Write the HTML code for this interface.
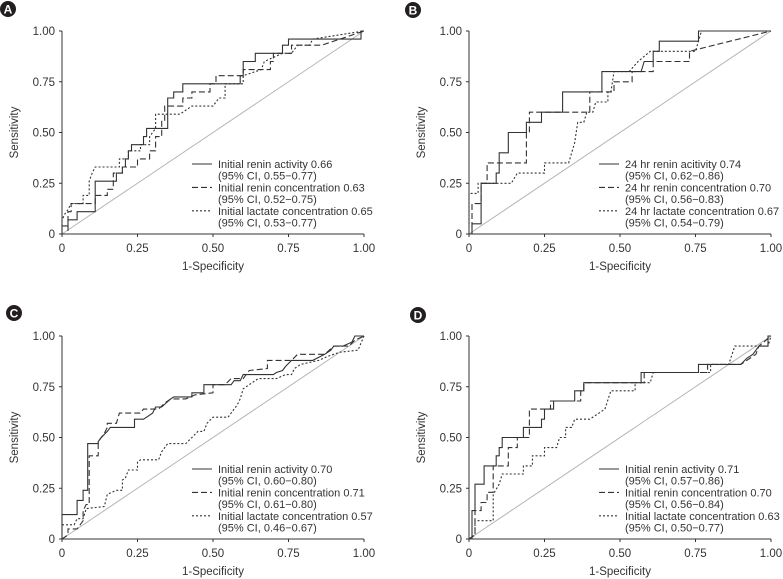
<!DOCTYPE html>
<html><head><meta charset="utf-8"><style>
html,body{margin:0;padding:0;background:#fff;}
svg{display:block;font-family:"Liberation Sans",Arial,sans-serif;}
</style></head><body>
<svg id="chart" width="783" height="579" viewBox="0 0 783 579" xmlns="http://www.w3.org/2000/svg"></svg>
<script>
const ticks = [0, 0.25, 0.5, 0.75, 1];
const tickLabels = ["0", "0.25", "0.50", "0.75", "1.00"];
const panelLetters = ["A", "B", "C", "D"];
const legendA = ["Initial renin activity 0.66", "(95% CI, 0.55\u22120.77)", "Initial renin concentration 0.63", "(95% CI, 0.52\u22120.75)", "Initial lactate concentration 0.65", "(95% CI, 0.53\u22120.77)"];
const legendB = ["24 hr renin acitivity 0.74", "(95% CI, 0.62\u22120.86)", "24 hr renin concentration 0.70", "(95% CI, 0.56\u22120.83)", "24 hr lactate concentration 0.67", "(95% CI, 0.54\u22120.79)"];
const legendC = ["Initial renin activity 0.70", "(95% CI, 0.60\u22120.80)", "Initial renin concentration 0.71", "(95% CI, 0.61\u22120.80)", "Initial lactate concentration 0.57", "(95% CI, 0.46\u22120.67)"];
const legendD = ["Initial renin activity 0.71", "(95% CI, 0.57\u22120.86)", "Initial renin concentration 0.70", "(95% CI, 0.56\u22120.84)", "Initial lactate concentration 0.63", "(95% CI, 0.50\u22120.77)"];

const solidA = [[0,0],[0,0.04],[0.02,0.04],[0.02,0.07],[0.05,0.07],[0.05,0.11],[0.11,0.11],[0.11,0.26],[0.18,0.26],[0.18,0.30],[0.2,0.30],[0.2,0.33],[0.21,0.33],[0.21,0.37],[0.22,0.37],[0.22,0.41],[0.23,0.41],[0.23,0.44],[0.27,0.44],[0.27,0.48],[0.28,0.48],[0.28,0.52],[0.35,0.52],[0.35,0.67],[0.37,0.67],[0.37,0.70],[0.40,0.70],[0.40,0.74],[0.59,0.74],[0.59,0.78],[0.6,0.78],[0.6,0.85],[0.64,0.85],[0.64,0.89],[0.73,0.89],[0.73,0.93],[0.75,0.93],[0.75,0.96],[0.99,0.96],[0.99,1],[1,1]];
const dashedA = [[0,0],[0.02,0],[0.02,0.11],[0.03,0.11],[0.03,0.15],[0.11,0.15],[0.11,0.19],[0.15,0.19],[0.15,0.22],[0.17,0.22],[0.17,0.30],[0.2,0.30],[0.2,0.33],[0.25,0.33],[0.25,0.37],[0.29,0.37],[0.29,0.41],[0.31,0.41],[0.31,0.48],[0.33,0.48],[0.33,0.56],[0.34,0.56],[0.34,0.63],[0.4,0.63],[0.4,0.67],[0.43,0.67],[0.43,0.70],[0.49,0.70],[0.49,0.74],[0.51,0.74],[0.51,0.78],[0.6,0.78],[0.6,0.81],[0.69,0.81],[0.69,0.85],[0.7,0.85],[0.7,0.89],[0.76,0.89],[0.76,0.93],[0.86,0.93],[1,1]];
const dottedA = [[0,0.04],[0,0.07],[0.01,0.1],[0.02,0.12],[0.03,0.15],[0.07,0.15],[0.07,0.19],[0.09,0.19],[0.09,0.26],[0.1,0.30],[0.11,0.33],[0.19,0.33],[0.19,0.37],[0.22,0.37],[0.22,0.41],[0.26,0.41],[0.26,0.44],[0.29,0.44],[0.29,0.48],[0.31,0.52],[0.31,0.59],[0.39,0.59],[0.43,0.63],[0.5,0.63],[0.52,0.67],[0.54,0.67],[0.54,0.74],[0.6,0.74],[0.6,0.78],[0.66,0.81],[0.67,0.85],[0.73,0.89],[0.76,0.89],[0.78,0.93],[0.82,0.93],[0.83,0.96],[1,1]];

const solidB = [[0.01,0],[0.01,0.05],[0.04,0.05],[0.04,0.25],[0.09,0.25],[0.09,0.3],[0.1,0.3],[0.1,0.4],[0.13,0.4],[0.13,0.5],[0.19,0.5],[0.19,0.55],[0.24,0.55],[0.24,0.6],[0.31,0.6],[0.31,0.7],[0.44,0.7],[0.44,0.8],[0.57,0.8],[0.58,0.85],[0.61,0.85],[0.61,0.9],[0.63,0.9],[0.63,0.95],[0.76,0.95],[0.76,1],[1,1]];
const dashedB = [[0,0],[0.01,0],[0.01,0.15],[0.04,0.15],[0.04,0.25],[0.06,0.25],[0.06,0.35],[0.19,0.35],[0.19,0.5],[0.2,0.5],[0.2,0.6],[0.4,0.6],[0.4,0.7],[0.48,0.7],[0.48,0.75],[0.54,0.75],[0.54,0.8],[0.61,0.8],[0.61,0.85],[0.73,0.85],[0.73,0.9],[1,1]];
const dottedB = [[0,0.05],[0,0.2],[0.03,0.2],[0.03,0.25],[0.14,0.25],[0.16,0.3],[0.25,0.3],[0.25,0.35],[0.33,0.35],[0.35,0.45],[0.36,0.55],[0.38,0.55],[0.39,0.6],[0.41,0.6],[0.42,0.65],[0.46,0.65],[0.46,0.7],[0.47,0.7],[0.48,0.8],[0.53,0.8],[0.56,0.85],[0.6,0.9],[0.75,0.9],[0.77,1],[1,1]];

const solidC = [[0,0],[0,0.12],[0.05,0.12],[0.05,0.19],[0.07,0.19],[0.07,0.24],[0.085,0.24],[0.085,0.47],[0.12,0.47],[0.12,0.48],[0.13,0.5],[0.15,0.53],[0.16,0.55],[0.24,0.55],[0.24,0.59],[0.27,0.59],[0.28,0.6],[0.3,0.62],[0.31,0.65],[0.33,0.65],[0.36,0.69],[0.37,0.7],[0.43,0.7],[0.43,0.72],[0.47,0.72],[0.47,0.76],[0.56,0.76],[0.57,0.78],[0.59,0.78],[0.6,0.81],[0.7,0.81],[0.71,0.82],[0.73,0.83],[0.74,0.85],[0.76,0.88],[0.83,0.88],[0.87,0.91],[0.89,0.93],[0.9,0.95],[0.93,0.95],[0.96,0.97],[0.97,1],[1,1]];
const dashedC = [[0,0],[0.02,0.02],[0.02,0.05],[0.05,0.05],[0.06,0.07],[0.07,0.09],[0.07,0.14],[0.08,0.17],[0.09,0.17],[0.09,0.41],[0.12,0.41],[0.12,0.48],[0.14,0.52],[0.15,0.55],[0.15,0.57],[0.18,0.57],[0.19,0.62],[0.26,0.62],[0.27,0.64],[0.32,0.64],[0.34,0.67],[0.36,0.69],[0.41,0.69],[0.44,0.71],[0.5,0.72],[0.5,0.76],[0.54,0.76],[0.56,0.79],[0.6,0.79],[0.62,0.83],[0.68,0.84],[0.68,0.88],[0.76,0.88],[0.78,0.91],[0.87,0.91],[0.9,0.95],[0.95,0.95],[0.97,0.98],[1,1]];
const dottedC = [[0,0.07],[0.04,0.07],[0.05,0.1],[0.07,0.1],[0.08,0.15],[0.14,0.16],[0.15,0.22],[0.18,0.24],[0.2,0.24],[0.2,0.29],[0.21,0.3],[0.22,0.34],[0.25,0.34],[0.25,0.38],[0.26,0.39],[0.32,0.39],[0.33,0.43],[0.35,0.47],[0.41,0.47],[0.43,0.5],[0.45,0.53],[0.47,0.53],[0.48,0.57],[0.5,0.6],[0.55,0.6],[0.56,0.62],[0.58,0.66],[0.59,0.69],[0.6,0.74],[0.62,0.76],[0.65,0.79],[0.71,0.79],[0.74,0.81],[0.76,0.81],[0.77,0.84],[0.79,0.86],[0.85,0.88],[0.88,0.9],[0.92,0.92],[0.98,0.93],[1,1]];

const solidD = [[0.01,0],[0.01,0.14],[0.02,0.14],[0.02,0.27],[0.05,0.27],[0.05,0.36],[0.09,0.36],[0.09,0.41],[0.1,0.41],[0.1,0.45],[0.11,0.45],[0.11,0.5],[0.18,0.5],[0.18,0.55],[0.24,0.55],[0.24,0.59],[0.25,0.59],[0.25,0.64],[0.28,0.64],[0.28,0.68],[0.35,0.68],[0.35,0.73],[0.38,0.73],[0.38,0.77],[0.57,0.77],[0.57,0.82],[0.76,0.82],[0.76,0.86],[0.9,0.86],[0.92,0.89],[0.94,0.91],[0.96,0.95],[0.99,0.95],[0.99,1],[1,1]];
const dashedD = [[0,0],[0.02,0.02],[0.02,0.14],[0.04,0.14],[0.04,0.18],[0.06,0.18],[0.06,0.23],[0.08,0.23],[0.08,0.36],[0.13,0.36],[0.13,0.45],[0.16,0.45],[0.16,0.5],[0.2,0.5],[0.2,0.64],[0.27,0.64],[0.27,0.68],[0.37,0.68],[0.37,0.73],[0.38,0.73],[0.38,0.77],[0.58,0.77],[0.58,0.82],[0.79,0.82],[0.79,0.86],[0.9,0.86],[0.95,0.91],[0.96,0.95],[1,1]];
const dottedD = [[0,0],[0.02,0.02],[0.02,0.09],[0.08,0.09],[0.08,0.22],[0.1,0.27],[0.11,0.32],[0.18,0.32],[0.18,0.36],[0.21,0.36],[0.21,0.41],[0.25,0.41],[0.25,0.45],[0.29,0.45],[0.3,0.5],[0.32,0.5],[0.32,0.55],[0.34,0.55],[0.35,0.59],[0.4,0.59],[0.45,0.64],[0.47,0.73],[0.55,0.73],[0.55,0.77],[0.6,0.77],[0.61,0.82],[0.8,0.82],[0.8,0.86],[0.86,0.86],[0.88,0.95],[0.99,0.95],[1,1]];

const NS = "http://www.w3.org/2000/svg";
const svg = document.getElementById('chart');
function mk(tag, attrs, parent) {
  const e = document.createElementNS(NS, tag);
  for (const k in attrs) e.setAttribute(k, attrs[k]);
  (parent || svg).appendChild(e);
  return e;
}
const panels = [
  {x0:62, x1:364, y0:234, y1:31, badge:[8,9], legend:legendA, series:[solidA,dashedA,dottedA], lx:192, ly:164},
  {x0:469, x1:771, y0:234, y1:31, badge:[413,10], legend:legendB, series:[solidB,dashedB,dottedB], lx:599, ly:164},
  {x0:62, x1:364, y0:539, y1:336, badge:[14,313], legend:legendC, series:[solidC,dashedC,dottedC], lx:192, ly:469},
  {x0:469, x1:771, y0:539, y1:336, badge:[418,315], legend:legendD, series:[solidD,dashedD,dottedD], lx:599, ly:469}
];
const dashes = ["", "6,3", "2,2"];
const seriesNames = ["renin-activity", "renin-concentration", "lactate-concentration"];
panels.forEach((p, i) => {
  const L = panelLetters[i].toLowerCase();
  const g = mk('g', {});
  
  
  const sx = v => p.x0 + v * (p.x1 - p.x0);
  const sy = v => p.y0 + v * (p.y1 - p.y0);
  // badge
  const bc = mk('circle', {cx:p.badge[0], cy:p.badge[1], r:8, fill:'#231f20'}, g);
  
  
  const bt = mk('text', {x:p.badge[0], y:p.badge[1]+4.5, 'text-anchor':'middle', 'font-size':12, 'font-weight':'bold', fill:'#fff'}, g);
  bt.textContent = panelLetters[i];
  // diagonal
  const dg = mk('line', {x1:sx(0), y1:sy(0), x2:sx(1), y2:sy(1), stroke:'#b5b5b5', 'stroke-width':1}, g);
  
  
  // axes
  const ya = mk('line', {x1:p.x0, y1:p.y0, x2:p.x0, y2:p.y1, stroke:'#333', 'stroke-width':1}, g);
  
  
  const xa = mk('line', {x1:p.x0, y1:p.y0, x2:p.x1, y2:p.y0, stroke:'#333', 'stroke-width':1}, g);
  
  
  ticks.forEach((t, j) => {
    mk('line', {x1:p.x0-3, y1:sy(t), x2:p.x0, y2:sy(t), stroke:'#333'}, g);
    mk('line', {x1:sx(t), y1:p.y0, x2:sx(t), y2:p.y0+3, stroke:'#333'}, g);
    const yl = mk('text', {x:p.x0-7, y:sy(t)+4, 'text-anchor':'end', 'font-size':11.5, fill:'#333'}, g);
    yl.textContent = tickLabels[j];
    
    
    const xl = mk('text', {x:sx(t), y:p.y0+18, 'text-anchor':'middle', 'font-size':11.5, fill:'#333'}, g);
    xl.textContent = tickLabels[j];
    
    
  });
  const xt = mk('text', {x:(p.x0+p.x1)/2, y:p.y0+36, 'text-anchor':'middle', 'font-size':11.5, fill:'#333'}, g);
  xt.textContent = '1-Specificity';
  
  
  const ytx = p.x0 - 44, yty = (p.y0+p.y1)/2;
  const yt = mk('text', {x:ytx, y:yty, 'text-anchor':'middle', 'font-size':11.5, fill:'#333', transform:'rotate(-90 '+ytx+' '+yty+')'}, g);
  yt.textContent = 'Sensitivity';
  
  
  // curves
  p.series.forEach((s, k) => {
    const d = s.map((pt, n) => (n ? 'L' : 'M') + sx(pt[0]).toFixed(1) + ' ' + sy(pt[1]).toFixed(1)).join(' ');
    const attrs = {d:d, fill:'none', stroke:'#333', 'stroke-width':1.1};
    if (dashes[k]) attrs['stroke-dasharray'] = dashes[k];
    const path = mk('path', attrs, g);
    
    
  });
  // legend
  p.legend.forEach((txt, r) => {
    const y = p.ly + r * 11.7;
    if (r % 2 === 0) {
      const la = {x1:p.lx, y1:y, x2:p.lx+20, y2:y, stroke:'#333', 'stroke-width':1.1};
      if (dashes[r/2]) la['stroke-dasharray'] = dashes[r/2];
      const ll = mk('line', la, g);
      
      
    }
    const lt = mk('text', {x:p.lx+26, y:y+4, 'font-size':11, fill:'#333'}, g);
    lt.textContent = txt;
    
    
  });
});
</script>
</body></html>
